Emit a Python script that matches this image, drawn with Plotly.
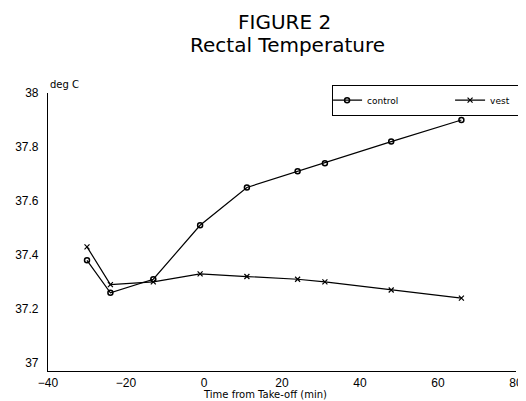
import plotly.graph_objects as go

time_min = [-30, -24, -13, -1, 11, 24, 31, 48, 66]
control = [37.38, 37.26, 37.31, 37.51, 37.65, 37.71, 37.74, 37.82, 37.90]
vest = [37.43, 37.29, 37.30, 37.33, 37.32, 37.31, 37.30, 37.27, 37.24]

x_ticks = [-40, -20, 0, 20, 40, 60, 80]
y_ticks = [37, 37.2, 37.4, 37.6, 37.8, 38]
y_tick_text = ["37", "37.2", "37.4", "37.6", "37.8", "38"]

FONT = "Liberation Sans"
TFONT = "DejaVu Sans"

fig = go.Figure()
fig.add_trace(go.Scatter(
    x=time_min, y=control, name="control", mode="lines+markers",
    line=dict(color="black", width=1.2),
    marker=dict(symbol="circle-open", size=5, color="black", line=dict(width=1.5)),
))
fig.add_trace(go.Scatter(
    x=time_min, y=vest, name="vest", mode="lines+markers",
    line=dict(color="black", width=1.2),
    marker=dict(symbol="x-thin-open", size=5, color="black", line=dict(width=1.2)),
))

# page has an 8px body margin: figure is placed at (8, 8)
fig.update_layout(
    width=518, height=393,
    margin=dict(l=40, r=10, t=85, b=30, autoexpand=False),
    paper_bgcolor="white", plot_bgcolor="white",
    font=dict(family=FONT, color="black", size=12),
    showlegend=True,
    legend=dict(
        orientation="h", x=0.607, y=1.03, xanchor="left", yanchor="top",
        bordercolor="black", borderwidth=1, bgcolor="white",
        font=dict(size=9, family=TFONT), itemwidth=30,
        entrywidth=84, entrywidthmode="pixels",
        tracegroupgap=0, indentation=-6,
    ),
    xaxis=dict(
        range=[-40, 80], tickvals=x_ticks, showline=True, linecolor="black",
        linewidth=1.2, showgrid=False, zeroline=False, ticks="",
        tickfont=dict(size=12), ticklabelstandoff=0, automargin=False,
    ),
    yaxis=dict(
        range=[36.97, 38.0], tickvals=y_ticks, ticktext=y_tick_text,
        showline=True, linecolor="black", linewidth=1.2, showgrid=False,
        zeroline=False, ticks="", tickfont=dict(size=12), ticklabelstandoff=6,
        automargin=False,
    ),
    annotations=[
        dict(text="FIGURE 2", xref="paper", yref="paper",
             x=0.506, y=1.257, showarrow=False, font=dict(size=20, family=TFONT),
             xanchor="center", yanchor="middle"),
        dict(text="Rectal Temperature", xref="paper", yref="paper",
             x=0.511, y=1.172, showarrow=False, font=dict(size=20, family=TFONT),
             xanchor="center", yanchor="middle"),
        dict(text="deg C", xref="paper", yref="paper", x=0.0, y=1.03,
             xanchor="left", yanchor="middle", showarrow=False,
             font=dict(size=10, family=TFONT)),
        dict(text="Time from Take-off (min)", xref="paper", yref="paper",
             x=0.464, y=-0.086, xanchor="center", yanchor="middle",
             showarrow=False, font=dict(size=10, family=TFONT)),
    ],
)

fig.write_html("out.html")
